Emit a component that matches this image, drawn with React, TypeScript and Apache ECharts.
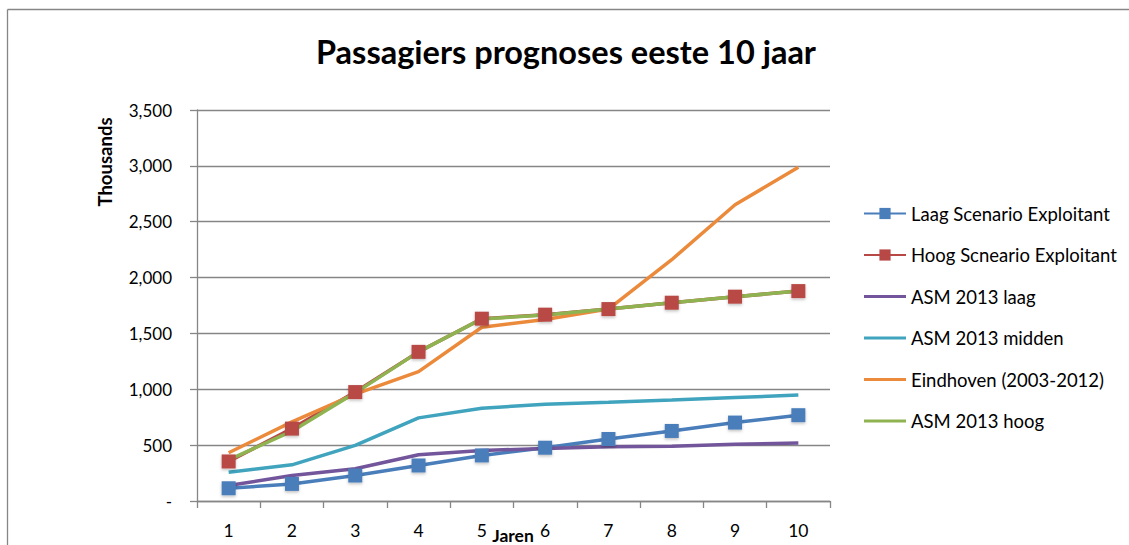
import React, { useEffect, useRef } from "react";
import * as echarts from "echarts";

const categories = ["1", "2", "3", "4", "5", "6", "7", "8", "9", "10"];
const laagScenario = [114, 153, 228, 318, 408, 477, 555, 627, 702, 768];
const hoogScenario = [354, 648, 975, 1335, 1632, 1668, 1718, 1775, 1829, 1879];
const asmLaag = [138, 228, 288, 414, 453, 469, 485, 489, 507, 519];
const asmMidden = [258, 324, 498, 744, 830, 866, 883, 903, 926, 949];
const eindhoven = [432, 708, 957, 1158, 1555, 1625, 1718, 2160, 2652, 2987];
const asmHoog = [368, 625, 968, 1335, 1630, 1665, 1718, 1775, 1829, 1879];
const yTicks = { min: 0, max: 3500, interval: 500 };

const FONT = "Lato";
const LINE_ICON = "path://M0,0L0,0M0,5.5L42,5.5L42,8.5L0,8.5ZM42,14L42,14";

export default function App() {
  const ref = useRef<HTMLDivElement>(null);
  useEffect(() => {
    document.body.style.margin = "0";
    const chart = echarts.init(ref.current!, undefined, { renderer: "svg" });
    const shadow = { shadowBlur: 3, shadowColor: "rgba(0,0,0,0.25)", shadowOffsetY: 1.5 };
    const mk = (name: string, data: number[], color: string, marker: boolean) => ({
      name,
      type: "line",
      data,
      symbol: marker ? "rect" : "none",
      symbolSize: 14,
      showSymbol: marker,
      lineStyle: { color, width: 3.5 },
      itemStyle: marker ? { color, ...shadow } : { color },
    });
    chart.setOption({
      animation: false,
      backgroundColor: "#fff",
      textStyle: { fontFamily: FONT },
      title: {
        text: "Passagiers prognoses eeste 10 jaar",
        left: 561,
        top: 30,
        textAlign: "center",
        textStyle: { fontFamily: FONT, fontSize: 32.5, fontWeight: "bold", color: "#000" },
      },
      grid: { left: 197, right: 299, top: 110, bottom: 44, containLabel: false, outerBoundsMode: "none" },
      legend: {
        orient: "vertical",
        left: 858,
        top: 199,
        itemWidth: 42,
        itemHeight: 14,
        itemGap: 22.5,
        textStyle: { fontFamily: FONT, fontSize: 18.5, color: "#000" },
        data: [
          { name: "Laag Scenario Exploitant" },
          { name: "Hoog Scneario Exploitant" },
          { name: "ASM 2013 laag", icon: LINE_ICON },
          { name: "ASM 2013 midden", icon: LINE_ICON },
          { name: "Eindhoven (2003-2012)", icon: LINE_ICON },
          { name: "ASM 2013 hoog", icon: LINE_ICON },
        ],
      },
      xAxis: {
        type: "category",
        data: categories,
        boundaryGap: true,
        axisLine: { lineStyle: { color: "#868686", width: 1.3 } },
        axisTick: { show: true, length: 7, lineStyle: { color: "#868686", width: 1.3 } },
        axisLabel: { fontFamily: FONT, fontSize: 17.5, color: "#000", margin: 20 },
      },
      yAxis: {
        type: "value",
        min: yTicks.min,
        max: yTicks.max,
        interval: yTicks.interval,
        axisLine: { show: true, lineStyle: { color: "#868686", width: 1.3 } },
        axisTick: { show: true, length: 7, lineStyle: { color: "#868686", width: 1.3 } },
        splitLine: { lineStyle: { color: "#868686", width: 1.3 } },
        axisLabel: {
          fontFamily: FONT,
          fontSize: 17,
          color: "#000",
          margin: 25,
          formatter: (v: number) => (v === 0 ? "-" : v.toLocaleString("en-US")),
        },
      },
      graphic: [
        {
          type: "line",
          shape: { x1: 7.5, y1: 9.5, x2: 1129, y2: 9.5 },
          style: { stroke: "#868686", lineWidth: 1.3 },
        },
        {
          type: "line",
          shape: { x1: 7.5, y1: 9.5, x2: 7.5, y2: 545 },
          style: { stroke: "#868686", lineWidth: 1.3 },
        },
        {
          type: "text",
          x: 105,
          y: 162,
          rotation: Math.PI / 2,
          style: {
            text: "Thousands",
            fontFamily: FONT,
            fontSize: 18.5,
            fontWeight: "bold",
            fill: "#000",
            textAlign: "center",
            textVerticalAlign: "middle",
          },
        },
        {
          type: "text",
          x: 513,
          y: 535,
          z: 10,
          style: {
            text: "Jaren",
            fontFamily: FONT,
            fontSize: 17.5,
            fontWeight: "bold",
            fill: "#000",
            textAlign: "center",
            textVerticalAlign: "middle",
          },
        },
      ],
      series: [
        mk("Laag Scenario Exploitant", laagScenario, "#4A7EBB", true),
        mk("Hoog Scneario Exploitant", hoogScenario, "#B84845", true),
        mk("ASM 2013 laag", asmLaag, "#72559A", false),
        mk("ASM 2013 midden", asmMidden, "#40A4BE", false),
        mk("Eindhoven (2003-2012)", eindhoven, "#EC8A3C", false),
        mk("ASM 2013 hoog", asmHoog, "#8FB350", false),
      ],
    });
    return () => chart.dispose();
  }, []);
  return <div ref={ref} style={{ width: 1129, height: 545 }} />;
}
